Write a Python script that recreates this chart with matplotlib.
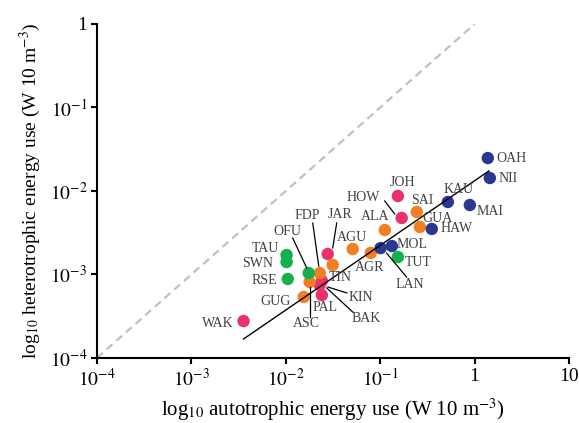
import numpy as np
import matplotlib
matplotlib.use("Agg")
import matplotlib.pyplot as plt
from matplotlib.ticker import FixedLocator, FuncFormatter, NullLocator

plt.rcParams['font.family'] = ['Liberation Serif', 'DejaVu Serif']
plt.rcParams['mathtext.fontset'] = 'stix'

# sites, grouped by colour
pink_names = ["WAK", "PAL", "KIN", "BAK", "JAR", "HOW", "JOH"]
pink_auto = [0.00357, 0.0241, 0.0241, 0.0229, 0.0278, 0.169, 0.154]
pink_het = [0.000277, 0.000567, 0.000836, 0.000748, 0.00176, 0.00475, 0.00871]

orange_names = ["GUG", "ASC", "FDP", "TIN", "AGU", "AGR", "ALA", "SAI", "GUA"]
orange_auto = [0.0155, 0.0179, 0.0229, 0.0314, 0.0512, 0.0794, 0.112, 0.244, 0.263]
orange_het = [0.000538, 0.000813, 0.00104, 0.00130, 0.00202, 0.00181, 0.00341, 0.00561, 0.00371]

green_names = ["TAU", "SWN", "RSE", "OFU", "TUT"]
green_auto = [0.0102, 0.0102, 0.0105, 0.0175, 0.154]
green_het = [0.00171, 0.00141, 0.000883, 0.00104, 0.00162]

navy_names = ["LAN", "MOL", "HAW", "KAU", "MAI", "NII", "OAH"]
navy_auto = [0.101, 0.133, 0.352, 0.521, 0.891, 1.45, 1.38]
navy_het = [0.00207, 0.00219, 0.00351, 0.00738, 0.00679, 0.0143, 0.0248]

# fitted line end points
fit_x = [0.00357, 1.42]
fit_y = [0.000169, 0.0174]

ticks = [1e-4, 1e-3, 1e-2, 1e-1, 1, 10]

# label offsets in pixels (dx, dy), and leader line (start, end) offsets
label_off = {
    "WAK": (-26, -2), "GUG": (-28, -5), "RSE": (-23, -2), "SWN": (-29, -1),
    "TAU": (-21, 7), "OFU": (-21, 42), "FDP": (-12, 58), "JAR": (12, 39),
    "TIN": (8, -13), "KIN": (39, -17), "BAK": (46, -33), "PAL": (3, -12),
    "ASC": (-3, -42), "AGU": (-1, 11), "AGR": (-1, -15), "LAN": (29, -36),
    "MOL": (20, 2), "TUT": (20, -6), "ALA": (-10, 13), "HOW": (-38, 20),
    "JOH": (5, 13), "SAI": (5, 11), "GUA": (18, 8), "HAW": (25, 0),
    "KAU": (11, 13), "MAI": (20, -6), "OAH": (24, 0), "NII": (18, 0),
}
leaders = {
    "OFU": ((-16, 35), (-2, 5)), "FDP": ((-7, 50), (-1, 7)),
    "JAR": ((9, 31), (5, 6)), "KIN": ((6, -6), (25, -12)),
    "BAK": ((7, -3), (33, -27)), "ASC": ((0, -5), (0, -35)),
    "LAN": ((6, -5), (26, -29)), "HOW": ((-17, 17), (-7, 4)),
}

fig = plt.figure(figsize=(5.79, 4.23), dpi=100)
ax = fig.add_axes([0.1675, 0.1537, 0.8152, 0.7896])
ax.set_xscale('log')
ax.set_yscale('log')
ax.set_xlim(1e-4, 10)
ax.set_ylim(1e-4, 1)

ax.plot([1e-4, 1], [1e-4, 1], color='#c0c0c0', lw=1.6, dashes=(3.5, 2.3), zorder=1)
ax.plot(fit_x, fit_y, color='black', lw=1.0, zorder=3)

groups = [
    (pink_names, pink_auto, pink_het, '#e9326c'),
    (orange_names, orange_auto, orange_het, '#f27f21'),
    (green_names, green_auto, green_het, '#14b04b'),
    (navy_names, navy_auto, navy_het, '#2b3892'),
]
for names, xs, ys, col in groups:
    ax.scatter(xs, ys, s=80, color=col, edgecolors='none', zorder=2)
    for n, x, y in zip(names, xs, ys):
        ax.annotate(n, (x, y), xytext=label_off[n], textcoords='offset pixels',
                    ha='center', va='center', fontsize=10, color='#404040')
        if n in leaders:
            (x0, y0), (x1, y1) = leaders[n]
            p0 = ax.transData.transform((x, y))
            pts = ax.transData.inverted().transform([p0 + [x0, y0], p0 + [x1, y1]])
            ax.plot(pts[:, 0], pts[:, 1], color='black', lw=0.9, zorder=3)


def fmt(v, pos):
    if v == 1:
        return '1'
    if v == 10:
        return '10'
    return r'$10^{%d}$' % round(np.log10(v))


for axis in (ax.xaxis, ax.yaxis):
    axis.set_major_locator(FixedLocator(ticks))
    axis.set_major_formatter(FuncFormatter(fmt))
    axis.set_minor_locator(NullLocator())

ax.spines['top'].set_visible(False)
ax.spines['right'].set_visible(False)
for s in ('left', 'bottom'):
    ax.spines[s].set_linewidth(1.5)
ax.tick_params(direction='out', length=4, width=1.5, labelsize=14, pad=3)

ax.set_xlabel(r'log$_{10}$ autotrophic energy use (W 10 m$^{-3}$)', fontsize=15, labelpad=5)
ax.set_ylabel(r'log$_{10}$ heterotrophic energy use (W 10 m$^{-3}$)', fontsize=14, labelpad=5)

fig.savefig('out.png', dpi=100)
